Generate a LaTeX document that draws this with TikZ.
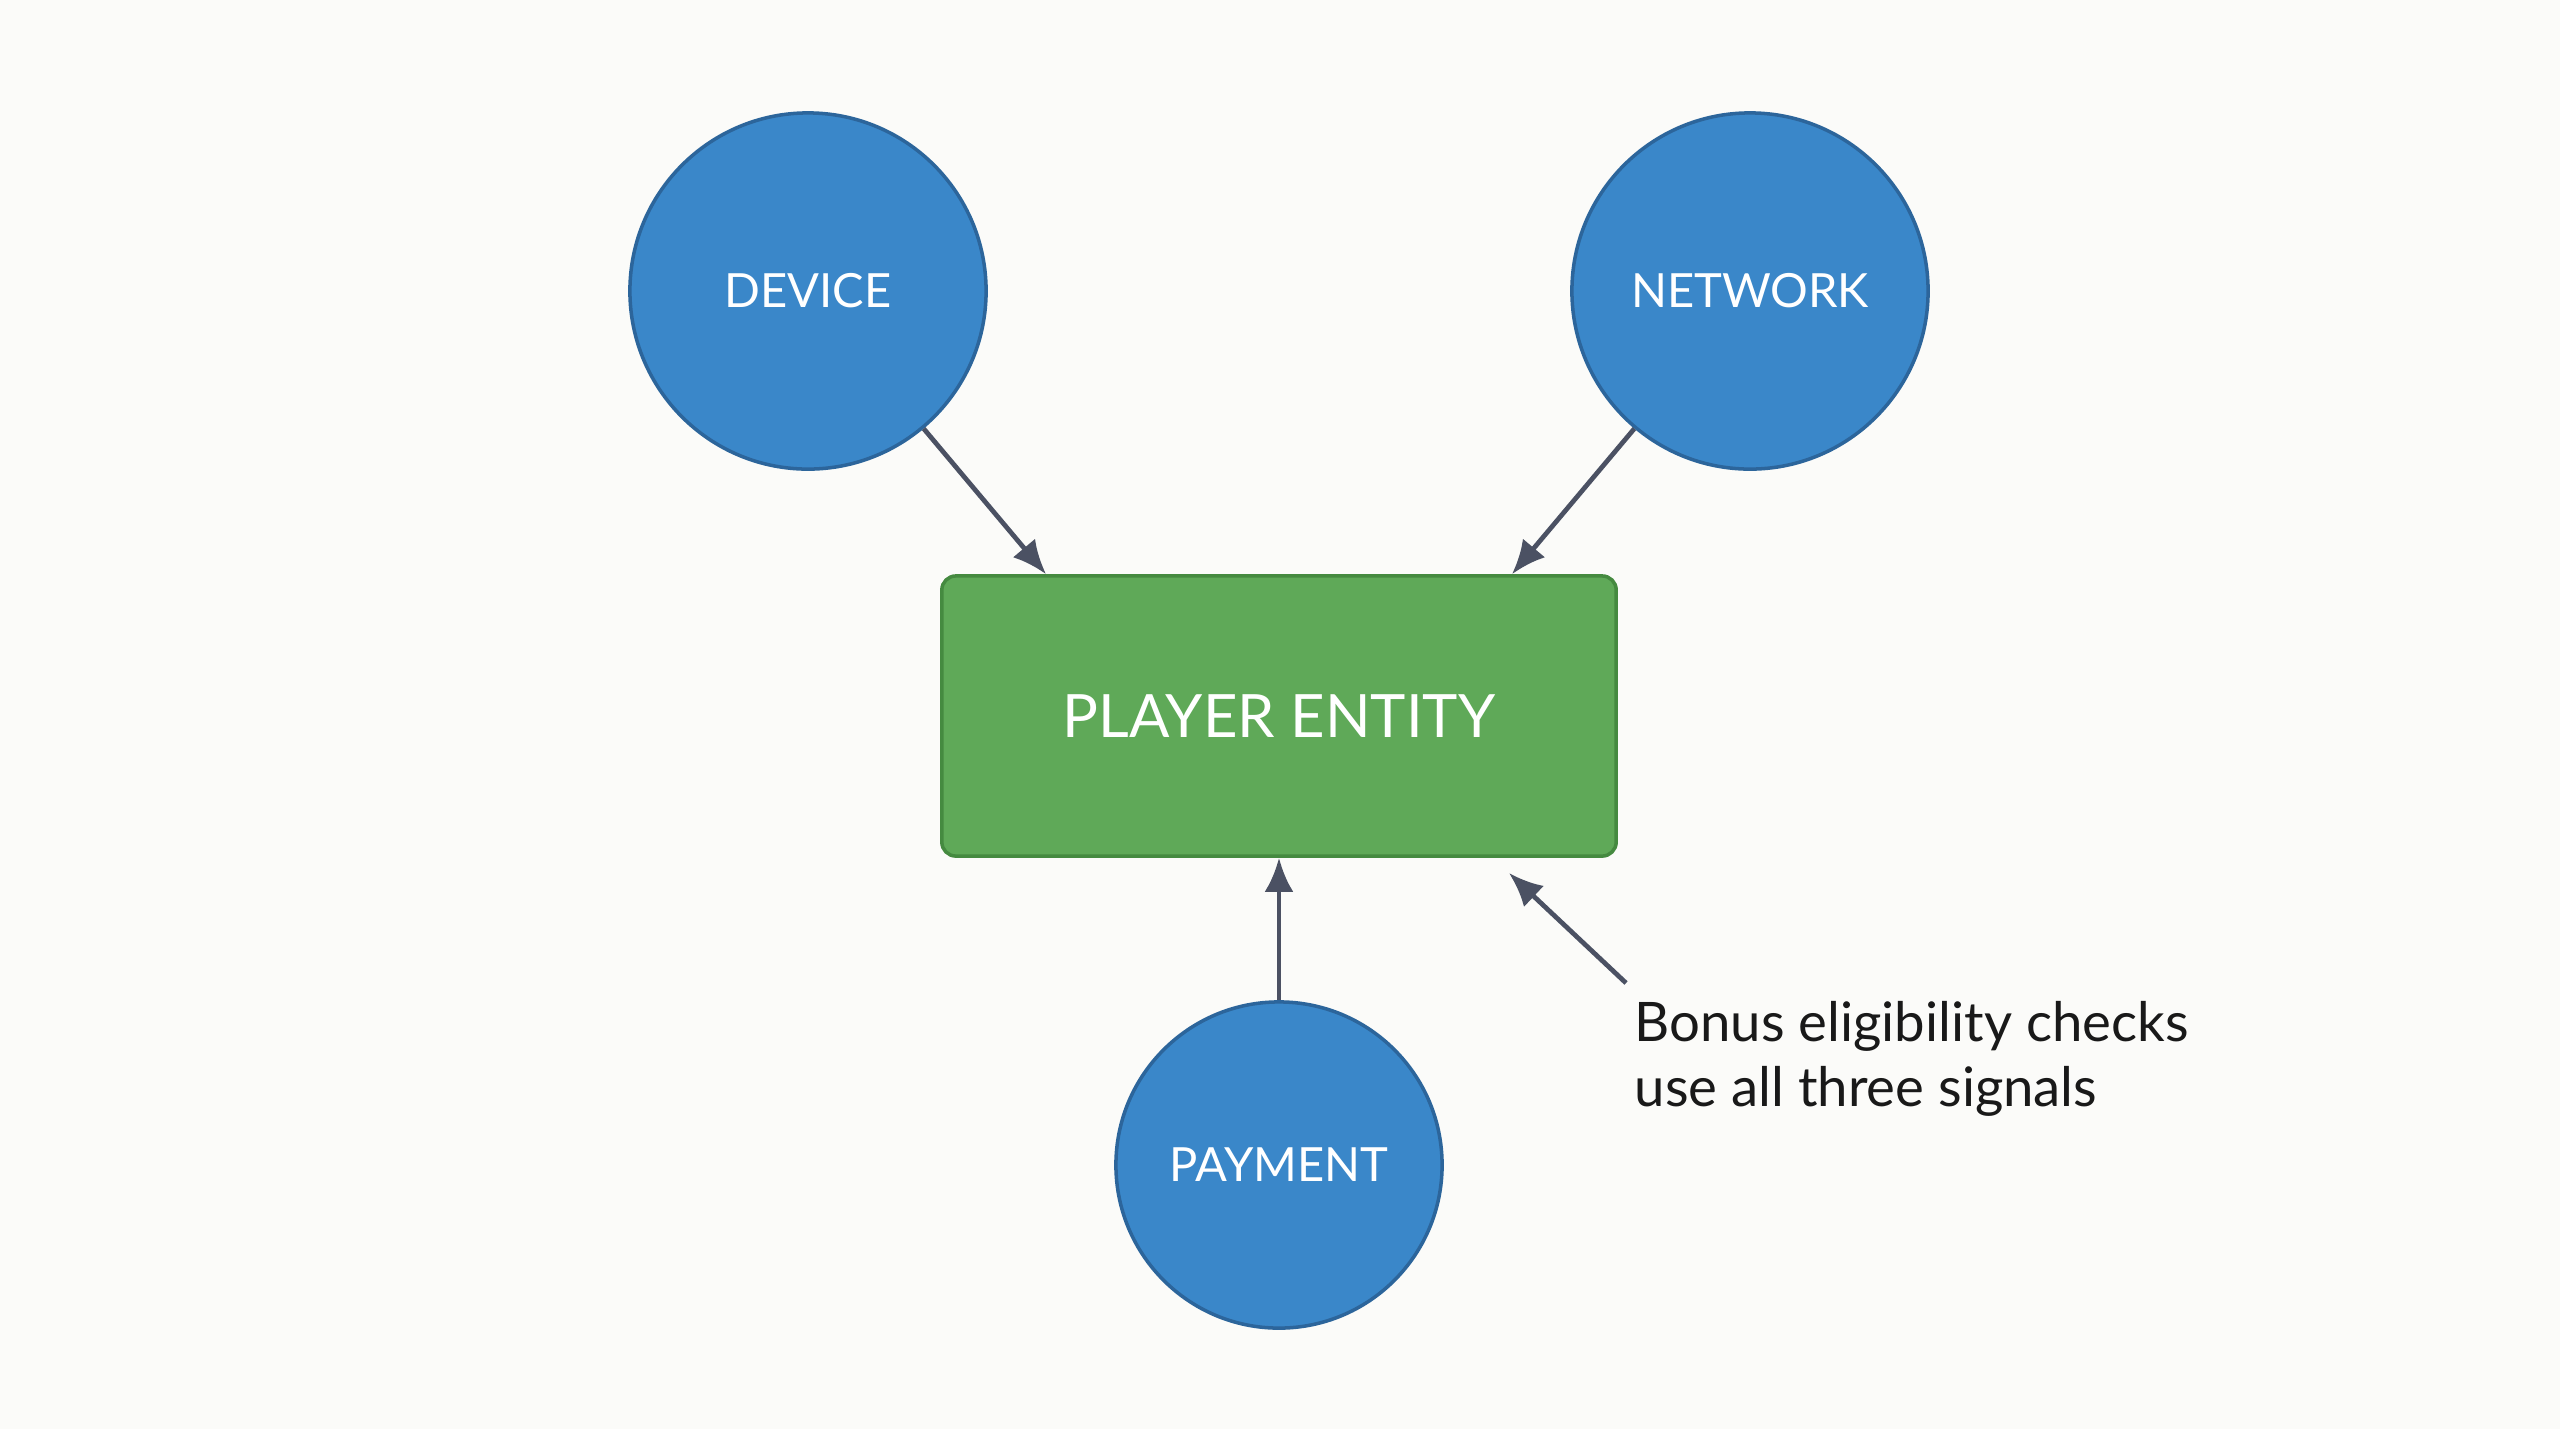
\documentclass[tikz,border=0pt]{standalone}
\usepackage{fontspec}
\setmainfont{Lato}
\usepackage{xcolor}
\usepackage{tikz}
\usetikzlibrary{calc, arrows.meta, positioning}

\definecolor{nen}{HTML}{FBFBF9}
\definecolor{nutxanh}{HTML}{3A87C9}
\definecolor{vienxanh}{HTML}{2C659B}
\definecolor{hopxanh}{HTML}{5FA958}
\definecolor{vienluc}{HTML}{458A40}
\definecolor{muitenxam}{HTML}{4B5163}

\begin{document}
\begin{tikzpicture}[>={Latex[length=3.4mm, width=2.9mm]}, x=0.01cm, y=-0.01cm,
    tinhieu/.style={circle, fill=nutxanh, draw=vienxanh, line width=1pt,
        text=white, font=\fontsize{13.4}{16}\selectfont},
    thucthe/.style={rectangle, rounded corners=4pt, fill=hopxanh, draw=vienluc,
        line width=1pt, minimum width=6.74cm, minimum height=2.8cm,
        text=white, font=\fontsize{17}{20}\selectfont},
    muiten/.style={->, draw=muitenxam, line width=1.35pt}]
    % Nền
    \fill[nen] (0,0) rectangle (2560,1429);
    
    % Các nút tín hiệu
    \node[tinhieu, minimum size=3.56cm] (device) at (808,291) {DEVICE};
    \node[tinhieu, minimum size=3.56cm] (network) at (1750,291) {NETWORK};
    \node[tinhieu, minimum size=3.26cm] (payment) at (1279,1165) {PAYMENT};
    
    % Thực thể người chơi
    \node[thucthe] (entity) at (1279,716) {PLAYER ENTITY};
    
    % Mũi tên vào thực thể
    \draw[muiten] (device) -- ($(entity.north)+(-233,0)$);
    \draw[muiten] (network) -- ($(entity.north)+(233,0)$);
    \draw[muiten] (payment) -- (entity);
    
    % Ghi chú
    \coordinate (goc) at (1626,983);
    \coordinate (dich) at (1509,873);
    \draw[muiten] (goc) -- (dich);
    \node[anchor=west, align=left, inner sep=0pt, text=black!90,
        font=\fontsize{15.5}{18.4}\selectfont] (ghichu) at (1634,1059)
        {Bonus eligibility checks\\use all three signals};
\end{tikzpicture}
\end{document}
